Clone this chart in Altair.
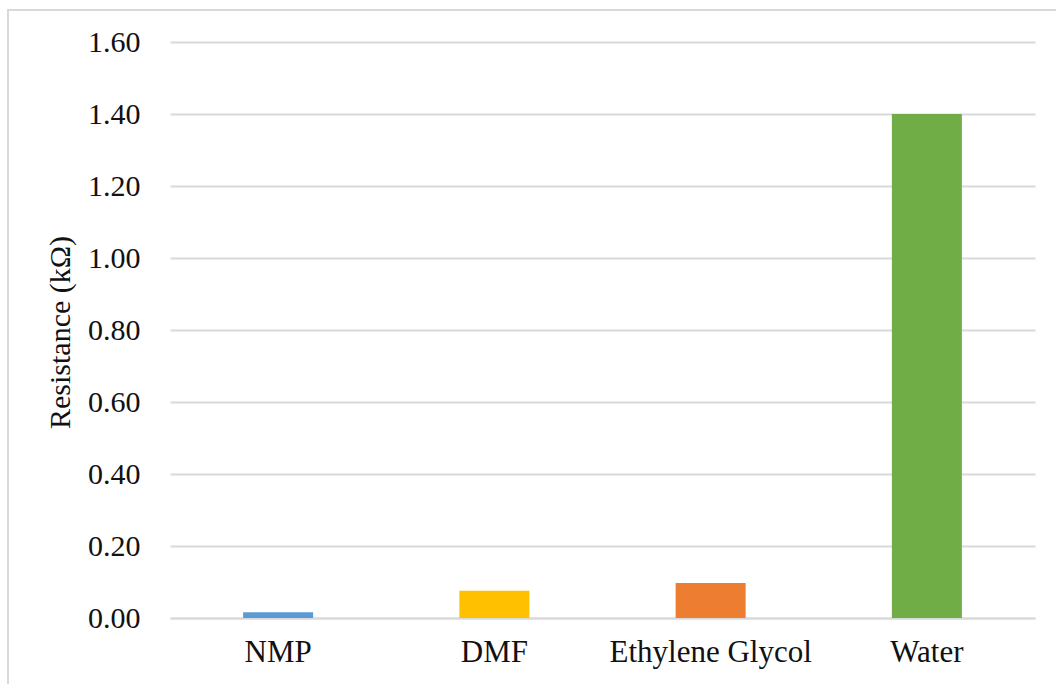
import altair as alt
import pandas as pd

# Solvent resistance measurements
solvents = ["NMP", "DMF", "Ethylene Glycol", "Water"]
resistance_kohm = [0.016, 0.076, 0.097, 1.40]
bar_colors = ["#5B9BD5", "#FFC000", "#ED7D31", "#70AD47"]
y_ticks = [0.0, 0.2, 0.4, 0.6, 0.8, 1.0, 1.2, 1.4, 1.6]

df = pd.DataFrame({"solvent": solvents, "resistance": resistance_kohm})

FONT = "Liberation Serif"
GRID = "#D9D9D9"

bars = alt.Chart(df).mark_bar(size=70).encode(
    x=alt.X(
        "solvent:N",
        sort=solvents,
        title=None,
        scale=alt.Scale(paddingInner=0.0, paddingOuter=0.0),
        axis=alt.Axis(
            labelAngle=0,
            labelFontSize=31,
            labelColor="#111111",
            labelPadding=19,
            labelLimit=0,
            ticks=False,
            domain=True,
            domainColor=GRID,
            domainWidth=2,
        ),
    ),
    y=alt.Y(
        "resistance:Q",
        title="Resistance (kΩ)",
        scale=alt.Scale(domain=[0, 1.6], nice=False),
        axis=alt.Axis(
            values=y_ticks,
            format=".2f",
            labelFontSize=30,
            labelColor="#111111",
            labelPadding=30,
            ticks=False,
            domain=False,
            grid=True,
            gridColor=GRID,
            gridWidth=2,
            titleFontSize=30,
            titleFontWeight="normal",
            titleColor="#111111",
            titleAngle=-90,
            titleAlign="center",
            titleBaseline="middle",
            titleX=-110,
            titleY=290,
        ),
    ),
    color=alt.Color(
        "solvent:N",
        scale=alt.Scale(domain=solvents, range=bar_colors),
        legend=None,
    ),
)

# Light outer frame around the figure
frame = alt.Chart(df).mark_rect(fill=None, stroke=GRID, strokeWidth=2).encode(
    x=alt.value(-162),
    x2=alt.value(940),
    y=alt.value(-32),
    y2=alt.value(700),
)

chart = (
    alt.layer(frame, bars)
    .properties(
        width=865,
        height=576,
        padding={"left": 170, "top": 42, "right": 21, "bottom": 66},
        autosize=alt.AutoSizeParams(type="none"),
        background="white",
    )
    .configure(font=FONT)
    .configure_axis(labelFont=FONT, titleFont=FONT)
    .configure_view(strokeWidth=0)
)

chart.save("out.html", embed_options={"renderer": "svg", "actions": False})
